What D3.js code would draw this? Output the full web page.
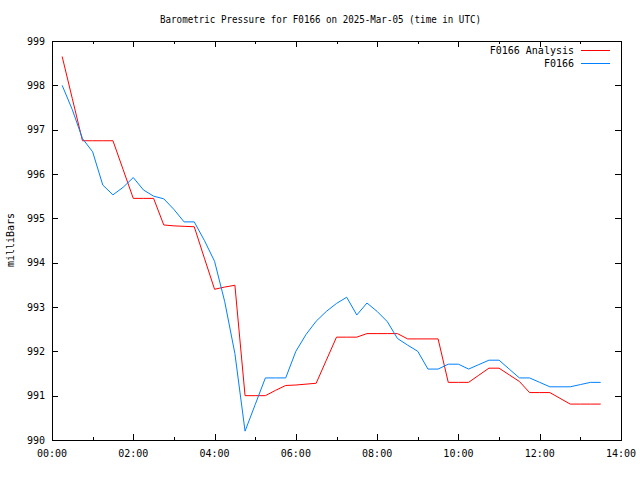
<!DOCTYPE html>
<html><head><meta charset="utf-8">
<script src="https://cdn.jsdelivr.net/npm/d3@7"></script>
<style>body{margin:0;background:#fff}svg text{font-family:"DejaVu Sans Mono",monospace;font-size:10px;fill:#000}</style>
</head><body><svg id="c" width="640" height="480"></svg>
<script>
const title = "Barometric Pressure for F0166 on 2025-Mar-05 (time in UTC)";
const yLabel = "milliBars";
const seriesNames = ["F0166 Analysis", "F0166"];
// times in hours (UTC), 15-minute steps from 00:15 to 13:30
const times = [0.25,0.5,0.75,1,1.25,1.5,1.75,2,2.25,2.5,2.75,3,3.25,3.5,3.75,4,4.25,4.5,4.75,5,5.25,5.5,5.75,6,6.25,6.5,6.75,7,7.25,7.5,7.75,8,8.25,8.5,8.75,9,9.25,9.5,9.75,10,10.25,10.5,10.75,11,11.25,11.5,11.75,12,12.25,12.5,12.75,13,13.25,13.5];
const analysis = [998.65,997.7,996.75,996.75,996.75,996.75,996.1,995.45,995.45,995.45,994.85,994.83,994.82,994.81,994.1,993.4,993.45,993.49,991.0,991.0,991.0,991.12,991.23,991.24,991.26,991.28,991.8,992.32,992.32,992.32,992.4,992.4,992.4,992.4,992.28,992.28,992.28,992.28,991.3,991.3,991.3,991.46,991.62,991.62,991.47,991.32,991.07,991.07,991.07,990.94,990.81,990.81,990.81,990.81];
const observed = [998.0,997.45,996.8,996.5,995.75,995.53,995.7,995.92,995.64,995.5,995.44,995.2,994.92,994.92,994.5,994.03,993.12,991.95,990.2,990.8,991.4,991.4,991.4,992.0,992.38,992.68,992.9,993.08,993.22,992.82,993.09,992.9,992.67,992.29,992.14,992.0,991.6,991.6,991.71,991.71,991.6,991.7,991.8,991.8,991.6,991.4,991.4,991.3,991.2,991.2,991.2,991.25,991.3,991.3];
const xTickHours = [0,2,4,6,8,10,12,14];
const xTickLabels = ["00:00","02:00","04:00","06:00","08:00","10:00","12:00","14:00"];
const yTicks = [990,991,992,993,994,995,996,997,998,999];
const colors = ["#ff0000","#0080ff"];

const svg = d3.select("#c");
const L=52,R=621,T=41,B=440;
const x = d3.scaleLinear().domain([0,14]).range([L,R]);
const y = d3.scaleLinear().domain([990,999]).range([B,T]);

// ticks
const g = svg.append("g").attr("shape-rendering","crispEdges").attr("stroke","#000");
d3.range(1,14).forEach(h=>{
  const len = (h%2===0)?6:3;
  const px = Math.round(x(h))+0.5;
  g.append("line").attr("x1",px).attr("x2",px).attr("y1",B).attr("y2",B-len);
  g.append("line").attr("x1",px).attr("x2",px).attr("y1",T).attr("y2",T+len);
});
yTicks.forEach(v=>{
  const py = Math.round(y(v))+0.5;
  g.append("line").attr("x1",L).attr("x2",L+6).attr("y1",py).attr("y2",py);
  g.append("line").attr("x1",R).attr("x2",R-6).attr("y1",py).attr("y2",py);
});
svg.append("rect").attr("x",L+0.5).attr("y",T+0.5).attr("width",R-L).attr("height",B-T)
  .attr("fill","none").attr("stroke","#000").attr("shape-rendering","crispEdges");

// tick labels
xTickHours.forEach((h,i)=>{
  svg.append("text").attr("x",x(h)).attr("y",457).attr("text-anchor","middle").text(xTickLabels[i]);
});
yTicks.forEach(v=>{
  svg.append("text").attr("x",45).attr("y",y(v)+3.5).attr("text-anchor","end").text(v);
});

// title & labels
svg.append("text").attr("x",160).attr("y",23).attr("textLength",321).attr("lengthAdjust","spacingAndGlyphs").text(title);
svg.append("text").attr("transform","translate(14,240) rotate(-90)").attr("text-anchor","middle").text(yLabel);

// lines
const line = d3.line().x(d=>x(d[0])).y(d=>y(d[1]));
[analysis, observed].forEach((vals,i)=>{
  svg.append("path").datum(times.map((t,j)=>[t,vals[j]]))
    .attr("d",line).attr("fill","none").attr("stroke",colors[i]).attr("stroke-width",1);
});

// legend
seriesNames.forEach((n,i)=>{
  const ly = 50 + i*13;
  svg.append("text").attr("x",574).attr("y",ly+3.5).attr("text-anchor","end").text(n);
  svg.append("line").attr("x1",581).attr("x2",610).attr("y1",ly+0.5).attr("y2",ly+0.5)
    .attr("stroke",colors[i]).attr("shape-rendering","crispEdges");
});
</script></body></html>
